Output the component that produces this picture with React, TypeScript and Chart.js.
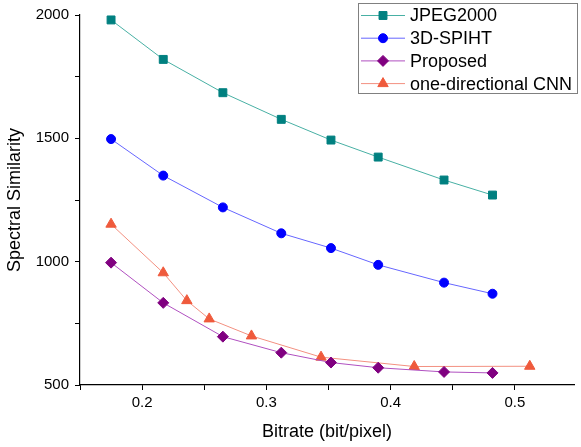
import React, { useEffect, useRef } from "react";
import { Chart, registerables } from "chart.js";
import { drawPoint } from "chart.js/helpers";

Chart.register(...registerables);

const bitrates = [0.175, 0.217, 0.265, 0.312, 0.352, 0.39, 0.443, 0.482];
const jpeg2000 = [1980, 1820, 1685, 1577, 1493, 1424, 1331, 1270];
const spiht3d = [1497, 1349, 1220, 1115, 1055, 987, 915, 870];
const proposed = [996, 833, 696, 631, 591, 570, 553, 549];
const cnnBitrates = [0.175, 0.217, 0.236, 0.254, 0.288, 0.344, 0.419, 0.512];
const cnn = [1152, 955, 842, 768, 699, 613, 575, 576];

const xMajorTicks = [0.2, 0.3, 0.4, 0.5];
const xTicks = [0.15, 0.2, 0.25, 0.3, 0.35, 0.4, 0.45, 0.5];
const yTicks = [500, 750, 1000, 1250, 1500, 1750, 2000];
const yMajorTicks = [500, 1000, 1500, 2000];

const FONT = "'Liberation Sans', Arial, sans-serif";

const pts = (xs: number[], ys: number[]) => xs.map((x, i) => ({ x, y: ys[i] }));

const boxLegend = {
  id: "boxLegend",
  afterDraw(chart: any) {
    const ctx = chart.ctx;
    const left = 358.5, top = 3.5, w = 219, h = 90;
    ctx.save();
    ctx.strokeStyle = "#808080";
    ctx.lineWidth = 1;
    ctx.strokeRect(left, top, w, h);
    ctx.font = `18px ${FONT}`;
    ctx.textBaseline = "middle";
    ctx.fillStyle = "#000";
    chart.data.datasets.forEach((ds: any, i: number) => {
      const y = 15.5 + i * 22.7;
      ctx.strokeStyle = ds.borderColor;
      ctx.lineWidth = 1;
      ctx.beginPath();
      ctx.moveTo(361, y);
      ctx.lineTo(405, y);
      ctx.stroke();
      ctx.fillStyle = ds.pointBackgroundColor;
      ctx.strokeStyle = ds.pointBorderColor;
      drawPoint(ctx, { pointStyle: ds.pointStyle, rotation: 0, borderWidth: 1, radius: ds.pointRadius }, 383, y);
      ctx.fillStyle = "#000";
      ctx.fillText(ds.label, 410, y + 1);
    });
    ctx.restore();
  },
};

export default function App() {
  const ref = useRef<HTMLCanvasElement>(null);
  useEffect(() => {
    document.body.style.margin = "0";
    const chart = new Chart(ref.current!, {
      type: "line",
      data: {
        datasets: [
          {
            label: "JPEG2000",
            data: pts(bitrates, jpeg2000),
            borderColor: "#48b0a4",
            pointBackgroundColor: "#008080",
            pointBorderColor: "#008080",
            pointStyle: "rect",
            pointRadius: 5.6,
            borderWidth: 1,
          },
          {
            label: "3D-SPIHT",
            data: pts(bitrates, spiht3d),
            borderColor: "#6666ff",
            pointBackgroundColor: "#0000ff",
            pointBorderColor: "#0000ff",
            pointStyle: "circle",
            pointRadius: 4.5,
            borderWidth: 1,
          },
          {
            label: "Proposed",
            data: pts(bitrates, proposed),
            borderColor: "#b050c0",
            pointBackgroundColor: "#800080",
            pointBorderColor: "#800080",
            pointStyle: "rectRot",
            pointRadius: 5.5,
            borderWidth: 1,
          },
          {
            label: "one-directional CNN",
            data: pts(cnnBitrates, cnn),
            borderColor: "#f39080",
            pointBackgroundColor: "#ef5a3c",
            pointBorderColor: "#ef5a3c",
            pointStyle: "triangle",
            pointRadius: 6,
            borderWidth: 1,
          },
        ],
      },
      options: {
        animation: false,
        responsive: false,
        maintainAspectRatio: false,
        layout: { padding: { top: 15, right: 0, left: 0, bottom: 0 } },
        plugins: { legend: { display: false }, tooltip: { enabled: false } },
        elements: { line: { tension: 0 } },
        scales: {
          x: {
            type: "linear",
            min: 0.15,
            max: 0.5476,
            afterBuildTicks: (s: any) => {
              s.ticks = xTicks.map((v) => ({ value: v }));
            },
            afterFit: (s: any) => {
              s.height = 62;
            },
            grid: { display: true, drawOnChartArea: false, drawTicks: true, tickLength: 5, color: "#000", lineWidth: 1 },
            border: { display: true, color: "#000", width: 1.2 },
            ticks: {
              color: "#000",
              padding: 4,
              font: { family: FONT, size: 15 },
              autoSkip: false,
              maxRotation: 0,
              callback: (v: any) => {
                const n = Number(v);
                return xMajorTicks.some((m) => Math.abs(m - n) < 1e-6) ? n.toFixed(1) : "";
              },
            },
            title: {
              display: true,
              text: "Bitrate (bit/pixel)",
              color: "#000",
              font: { family: FONT, size: 18 },
              padding: { top: 0, bottom: 4 },
            },
          },
          y: {
            type: "linear",
            min: 500,
            max: 2000,
            afterBuildTicks: (s: any) => {
              s.ticks = yTicks.map((v) => ({ value: v }));
            },
            afterFit: (s: any) => {
              s.width = 80;
            },
            grid: { display: true, drawOnChartArea: false, drawTicks: true, tickLength: 5, color: "#000", lineWidth: 1 },
            border: { display: true, color: "#000", width: 1.2 },
            ticks: {
              color: "#000",
              padding: 6,
              font: { family: FONT, size: 15 },
              autoSkip: false,
              callback: (v: any) => (yMajorTicks.includes(Number(v)) ? String(v) : ""),
            },
            title: {
              display: true,
              text: "Spectral Similarity",
              color: "#000",
              font: { family: FONT, size: 18 },
              padding: { top: 4, bottom: 0 },
            },
          },
        },
      },
      plugins: [boxLegend],
    });
    return () => chart.destroy();
  }, []);
  return (
    <div style={{ position: "absolute", left: 0, top: 0, width: 581, height: 447 }}>
      <canvas ref={ref} width={581} height={447} style={{ display: "block" }} />
    </div>
  );
}
